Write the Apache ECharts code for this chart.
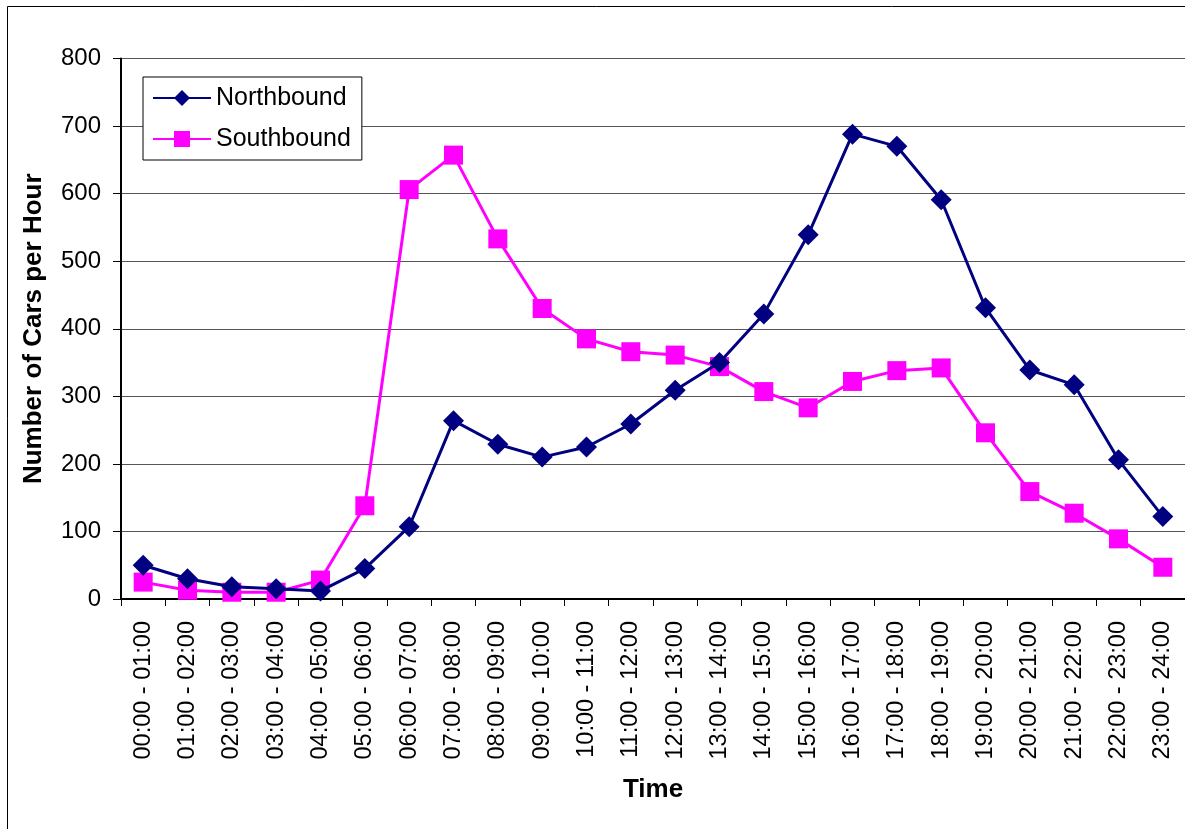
<!DOCTYPE html>
<html><head><meta charset="utf-8">
<script src="https://cdn.jsdelivr.net/npm/echarts@6/dist/echarts.min.js"></script>
<style>html,body{margin:0;padding:0;background:#fff}#c{width:1185px;height:829px}</style>
</head><body><div id="c"></div>
<script>
const categories = ["00:00 - 01:00","01:00 - 02:00","02:00 - 03:00","03:00 - 04:00","04:00 - 05:00","05:00 - 06:00","06:00 - 07:00","07:00 - 08:00","08:00 - 09:00","09:00 - 10:00","10:00 - 11:00","11:00 - 12:00","12:00 - 13:00","13:00 - 14:00","14:00 - 15:00","15:00 - 16:00","16:00 - 17:00","17:00 - 18:00","18:00 - 19:00","19:00 - 20:00","20:00 - 21:00","21:00 - 22:00","22:00 - 23:00","23:00 - 24:00"];
const northbound = [50,30,18,15,12,45,107,264,229,210,225,259,309,350,422,539,688,670,591,431,339,317,206,122];
const southbound = [25,13,10,10,28,138,606,657,533,430,385,366,361,344,307,283,322,338,342,246,159,127,89,47];
const yTicks = {min:0, max:800, interval:100};

const font = 'Liberation Sans, Arial, sans-serif';
const chart = echarts.init(document.getElementById('c'), null, {renderer:'canvas'});
chart.setOption({
  backgroundColor:'#fff',
  animation:false,
  graphic:[{type:'rect', shape:{x:7.5,y:6.5,width:1200,height:900}, style:{fill:'none',stroke:'#000',lineWidth:1}, z:-1}],
  grid:{left:121, top:58.5, right:-2, bottom:230},
  legend:{
    orient:'vertical', left:143, top:77,
    backgroundColor:'#fff', borderColor:'#000', borderWidth:1,
    padding:[7,11,7,9], itemGap:13, itemWidth:58, itemHeight:20,
    textStyle:{fontFamily:font, fontSize:25, color:'#000', lineHeight:28},
    data:[{name:'Northbound'},{name:'Southbound'}]
  },
  xAxis:{
    type:'category', data:categories, boundaryGap:true,
    name:'Time', nameLocation:'middle', nameGap:178,
    nameTextStyle:{fontFamily:font, fontSize:26, fontWeight:'bold', color:'#000'},
    axisLine:{lineStyle:{color:'#000', width:2}},
    axisTick:{show:true, alignWithLabel:false, length:7, lineStyle:{color:'#000', width:1}},
    axisLabel:{rotate:90, margin:22, fontFamily:font, fontSize:23.5, color:'#000', interval:0},
    splitLine:{show:false}
  },
  yAxis:{
    type:'value', min:yTicks.min, max:yTicks.max, interval:yTicks.interval,
    name:'Number of Cars per Hour', nameLocation:'middle', nameGap:74,
    nameTextStyle:{fontFamily:font, fontSize:26, fontWeight:'bold', color:'#000'},
    axisLine:{show:true, lineStyle:{color:'#000', width:2}},
    axisTick:{show:true, length:8, lineStyle:{color:'#000', width:1}},
    axisLabel:{margin:20, fontFamily:font, fontSize:24, color:'#000'},
    splitLine:{show:true, lineStyle:{color:'#555', width:1}}
  },
  series:[
    {name:'Northbound', type:'line', data:northbound, symbol:'diamond', symbolSize:[21,21],
     lineStyle:{color:'#000080', width:3}, itemStyle:{color:'#000080'}, z:3},
    {name:'Southbound', type:'line', data:southbound, symbol:'rect', symbolSize:[19,19],
     lineStyle:{color:'#FF00FF', width:3}, itemStyle:{color:'#FF00FF'}, z:2}
  ]
});
</script></body></html>
